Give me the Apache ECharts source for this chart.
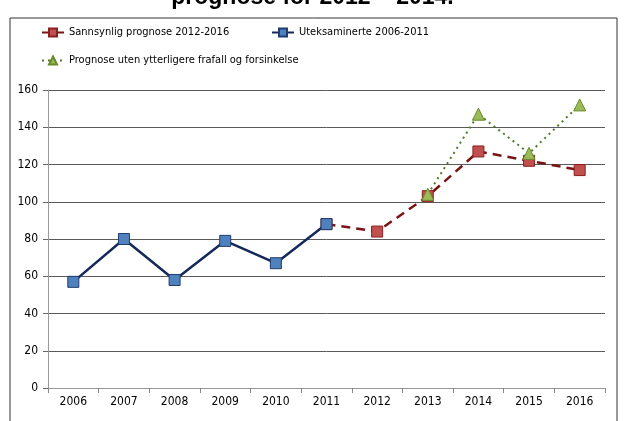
<!DOCTYPE html>
<html>
<head>
<meta charset="utf-8">
<script src="https://cdn.jsdelivr.net/npm/echarts@6/dist/echarts.min.js"></script>
<style>
    html, body { margin: 0; padding: 0; background: #fff; }
    #main { width: 625px; height: 421px; }
</style>
</head>
<body>
<div id="main"></div>
<script>
var years = ['2006', '2007', '2008', '2009', '2010', '2011', '2012', '2013', '2014', '2015', '2016'];
var uteksaminerte = [57, 80, 58, 79, 67, 88, null, null, null, null, null];
var sannsynlig = [null, null, null, null, null, 88, 84, 103, 127, 122, 117];
var utenFrafall = [null, null, null, null, null, null, null, 104, 147, 126, 152];
var yTicks = [0, 20, 40, 60, 80, 100, 120, 140, 160];

var nameRed = 'Sannsynlig prognose 2012-2016';
var nameBlue = 'Uteksaminerte 2006-2011';
var nameGreen = 'Prognose uten ytterligere frafall og forsinkelse';

var labelFont = "'Liberation Sans Narrow', 'DejaVu Sans Condensed', 'Open Sans', sans-serif";

function legendAt(name, left, top)
{
    return {
        data: [name],
        left: left,
        top: top,
        itemWidth: 22,
        itemHeight: 10,
        itemGap: 0,
        textStyle: { fontFamily: labelFont, fontSize: 11, color: '#000' }
    };
}

var option = {
    animation: false,
    graphic: [
        {
            type: 'rect',
            shape: { x: 10, y: 18, width: 607, height: 420 },
            style: { fill: 'none', stroke: '#333', lineWidth: 1 },
            z: -10
        },
        {
            type: 'text',
            left: 'center',
            top: -14,
            style: {
                text: 'prognose for 2012 \u2013 2014.',
                font: 'bold 23px "Liberation Sans", Arial, sans-serif',
                fill: '#000'
            }
        }
    ],
    legend: [
        legendAt(nameRed, 36, 22),
        legendAt(nameBlue, 266, 22),
        legendAt(nameGreen, 36, 50)
    ],
    grid: { left: 48, right: 20, top: 90, bottom: 33 },
    xAxis: {
        type: 'category',
        data: years,
        boundaryGap: true,
        axisLine: { lineStyle: { color: '#999', width: 1 } },
        axisTick: { show: true, length: 5, lineStyle: { color: '#888' } },
        axisLabel: { fontFamily: labelFont, fontSize: 12, color: '#000', margin: 8 }
    },
    yAxis: {
        type: 'value',
        min: yTicks[0],
        max: yTicks[yTicks.length - 1],
        interval: 20,
        axisLine: { show: true, lineStyle: { color: '#999', width: 1 } },
        axisTick: { show: true, length: 5, lineStyle: { color: '#666' } },
        axisLabel: { fontFamily: labelFont, fontSize: 12, color: '#000', margin: 10 },
        splitLine: { lineStyle: { color: '#5a5a5a', width: 1 } }
    },
    series: [
        {
            name: nameRed,
            type: 'line',
            data: sannsynlig,
            z: 2,
            symbol: 'rect',
            symbolSize: 11,
            lineStyle: { color: '#7a1414', width: 2.5, type: [9, 6] },
            itemStyle: { color: '#c0504d', borderColor: '#8c2020', borderWidth: 1 }
        },
        {
            name: nameBlue,
            type: 'line',
            data: uteksaminerte,
            z: 4,
            symbol: 'rect',
            symbolSize: 11,
            lineStyle: { color: '#14295a', width: 2.5 },
            itemStyle: { color: '#4f81bd', borderColor: '#1f3d6e', borderWidth: 1 }
        },
        {
            name: nameGreen,
            type: 'line',
            data: utenFrafall,
            z: 3,
            symbol: 'triangle',
            symbolSize: 12,
            lineStyle: { color: '#4f7a28', width: 2, type: [2, 4] },
            itemStyle: { color: '#9bbb59', borderColor: '#6a8a2a', borderWidth: 1 }
        }
    ]
};

var myChart = echarts.init(document.getElementById('main'));
myChart.setOption(option);
</script>
</body>
</html>
